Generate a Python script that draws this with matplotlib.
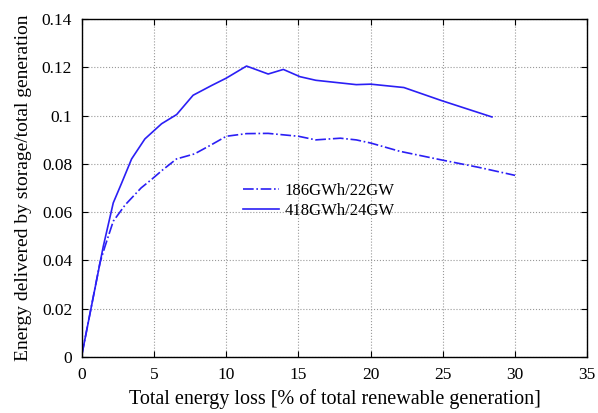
import matplotlib
matplotlib.use('Agg')
import matplotlib.pyplot as plt

plt.rcParams['font.family'] = ['Liberation Serif', 'DejaVu Serif']
plt.rcParams['mathtext.fontset'] = 'stix'

# 186GWh/22GW storage
loss_a = [0, 1.25, 1.6, 2.17, 3.0, 4.1, 4.8, 5.6, 6.55, 7.8, 9.0, 10.0, 11.4, 12.9, 15.0,
          16.2, 17.9, 19.0, 20.0, 22.0, 24.9, 27.5, 30.0]
frac_a = [0.001, 0.039, 0.0458, 0.0562, 0.063, 0.070, 0.0734, 0.0775, 0.082, 0.0841, 0.088,
          0.0914, 0.0925, 0.0926, 0.0914, 0.0899, 0.0906, 0.0899, 0.0886, 0.0852, 0.0816,
          0.0785, 0.0752]

# 418GWh/24GW storage
loss_b = [0, 1.48, 2.17, 2.75, 3.44, 4.36, 5.52, 6.56, 7.7, 9.0, 10.0, 11.4, 12.9, 13.95,
          15.1, 16.2, 19.0, 20.0, 22.3, 24.9, 28.4]
frac_b = [0.001, 0.0458, 0.0638, 0.072, 0.082, 0.0903, 0.0966, 0.1004, 0.1084, 0.1125,
          0.1155, 0.1205, 0.1172, 0.1191, 0.1161, 0.1146, 0.1128, 0.113, 0.1116, 0.1062,
          0.0994]

fig = plt.figure(figsize=(5.98, 4.13), dpi=100)
ax = fig.add_axes([0.137, 0.136, 0.845, 0.818])

ax.plot(loss_a, frac_a, color='#2b1ff5', linestyle='-.', linewidth=1.2, label='186GWh/22GW')
ax.plot(loss_b, frac_b, color='#2b1ff5', linestyle='-', linewidth=1.2, label='418GWh/24GW')

ax.set_xlim(0, 35)
ax.set_ylim(0, 0.14)
ax.set_xticks(range(0, 36, 5))
ax.set_yticks([0, 0.02, 0.04, 0.06, 0.08, 0.1, 0.12, 0.14])
ax.set_yticklabels(['0', '0.02', '0.04', '0.06', '0.08', '0.1', '0.12', '0.14'])
ax.tick_params(direction='in', top=True, right=True, labelsize=12.5, length=4, pad=7)
ax.grid(True, linestyle=':', color='#999999', linewidth=0.8)
for s in ax.spines.values():
    s.set_linewidth(1.0)

ax.set_xlabel('Total energy loss [% of total renewable generation]', fontsize=14.5, labelpad=5)
ax.set_ylabel('Energy delivered by storage/total generation', fontsize=14, labelpad=7)

ax.legend(loc='upper left', bbox_to_anchor=(0.305, 0.535), frameon=False, fontsize=12,
          handlelength=2.2, handletextpad=0.3, labelspacing=0.25, borderaxespad=0)

fig.savefig('out.png', dpi=100)
